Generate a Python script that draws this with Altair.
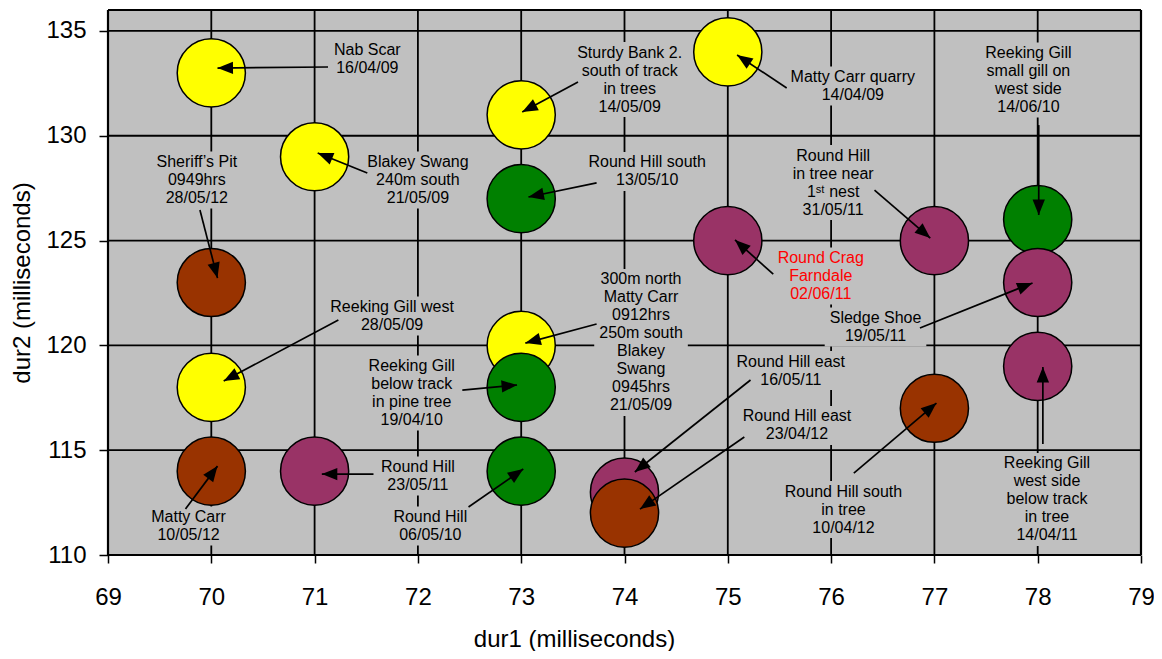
import math
import altair as alt
import pandas as pd

# ---------------- data ----------------
pt_group = ["yellow"] * 6 + ["green"] * 4 + ["purple"] * 6 + ["brown"] * 4
pt_dur1 = [70, 71, 73, 75, 73, 70,
           73, 78, 73, 73,
           75, 77, 78, 78, 71, 74,
           70, 70, 77, 74]
pt_dur2 = [133, 129, 131, 134, 120, 118,
           127, 126, 118, 114,
           125, 125, 123, 119, 114, 113,
           123, 114, 117, 112]
group_names = ["yellow", "green", "purple", "brown"]
group_colors = ["#FFFF00", "#008000", "#993366", "#993300"]

lbl_text = [
    "Nab Scar\n16/04/09",
    "Sheriff\u2019s Pit\n0949hrs\n28/05/12",
    "Blakey Swang\n240m south\n21/05/09",
    "Sturdy Bank 2.\nsouth of track\nin trees\n14/05/09",
    "Matty Carr quarry\n14/04/09",
    "Round Hill south\n13/05/10",
    "Reeking Gill\nsmall gill on\nwest side\n14/06/10",
    "Round Hill\nin tree near\n1\u02e2\u1d57 nest\n31/05/11",
    "Round Crag\nFarndale\n02/06/11",
    "300m north\nMatty Carr\n0912hrs\n250m south\nBlakey\nSwang\n0945hrs\n21/05/09",
    "Reeking Gill west\n28/05/09",
    "Reeking Gill\nbelow track\nin pine tree\n19/04/10",
    "Round Hill\n23/05/11",
    "Round Hill\n06/05/10",
    "Matty Carr\n10/05/12",
    "Round Hill east\n16/05/11",
    "Round Hill east\n23/04/12",
    "Round Hill south\nin tree\n10/04/12",
    "Sledge Shoe\n19/05/11",
    "Reeking Gill\nwest side\nbelow track\nin tree\n14/04/11",
]
# centre of each label block (data units)
lbl_x = [71.51, 69.86, 72.00, 74.05, 76.21, 74.22, 77.91, 76.02, 75.90, 74.16,
         71.75, 71.94, 72.00, 72.12, 69.78, 75.61, 75.67, 76.12, 76.43, 78.09]
lbl_y = [133.66, 127.89, 127.89, 132.68, 132.37, 128.30, 132.66, 127.77, 123.31, 120.14,
         121.40, 117.73, 113.77, 111.38, 111.38, 118.80, 116.18, 112.17, 120.88, 112.65]
lbl_color = ["black"] * 8 + ["#FF0000"] + ["black"] * 11

arr_x1 = [71.13, 69.89, 71.51, 73.55, 75.57, 73.73, 78.01, 76.42, 75.44, 73.73,
          71.23, 72.43, 71.57, 72.49, 69.75, 75.22, 75.16, 76.22, 76.86, 78.05]
arr_y1 = [133.28, 126.46, 128.22, 132.56, 132.28, 127.75, 130.51, 127.41, 123.40, 121.02,
          121.21, 117.87, 113.86, 112.29, 112.19, 118.35, 115.63, 113.91, 120.83, 115.29]
arr_x2 = [70.06, 70.06, 71.03, 73.01, 75.09, 73.07, 78.01, 76.96, 75.07, 73.04,
          70.12, 72.96, 71.07, 73.02, 70.06, 74.10, 74.15, 77.02, 77.95, 78.05]
arr_y2 = [133.23, 123.21, 129.18, 131.13, 133.85, 127.08, 126.22, 125.12, 125.03, 120.11,
          118.30, 118.11, 113.86, 114.10, 114.24, 113.96, 112.19, 117.25, 122.98, 118.97]

x_ticks = list(range(69, 80))
y_ticks = [110, 115, 120, 125, 130, 135]

# ---------------- layout ----------------
W, H = 1033, 545
XDOM, YDOM = [69, 79], [110, 136]
FONT = "Liberation Sans"
FS, LH = 16, 18
BG = "#C0C0C0"

px_x = W / (XDOM[1] - XDOM[0])
px_y = H / (YDOM[1] - YDOM[0])

angles = []
for a, b, c, d in zip(arr_x1, arr_y1, arr_x2, arr_y2):
    dx = (c - a) * px_x
    dy = -(d - b) * px_y
    angles.append(math.degrees(math.atan2(dx, -dy)) % 360)

# approximate Arial advance widths (em) to size the label background boxes
_w = {"i": .222, "l": .222, "j": .222, "\u2019": .222, " ": .278, "t": .278, "f": .278,
      "/": .278, ".": .278, ",": .278, "r": .333, "(": .333, ")": .333, "s": .5,
      "c": .5, "k": .5, "y": .5, "v": .5, "x": .5, "z": .5, "m": .833, "w": .722,
      "M": .833, "R": .722, "H": .722, "C": .722, "G": .778, "B": .667, "S": .667,
      "N": .722, "F": .611, "P": .667, "W": .944, "\u02e2": .35, "\u1d57": .3}


def text_w(s):
    return sum(_w.get(ch, .556) for ch in s) * FS


first_y, bx1, bx2, by1, by2 = [], [], [], [], []
for t, x, y in zip(lbl_text, lbl_x, lbl_y):
    lines = t.split("\n")
    n = len(lines)
    first_y.append(y + (n - 1) / 2 * LH / px_y)
    bw = max(text_w(s) for s in lines) + 10
    bh = n * LH + 3
    bx1.append(x - bw / 2 / px_x)
    bx2.append(x + bw / 2 / px_x)
    by1.append(y - bh / 2 / px_y)
    by2.append(y + bh / 2 / px_y)

pts = pd.DataFrame({"dur1": pt_dur1, "dur2": pt_dur2, "g": pt_group})
lbls = pd.DataFrame({"dur1": lbl_x, "dur2": first_y, "t": lbl_text, "c": lbl_color})
boxes = pd.DataFrame({"dur1": bx1, "x2": bx2, "dur2": by1, "y2": by2})
arrs = pd.DataFrame({"dur1": arr_x1, "dur2": arr_y1, "x2": arr_x2, "y2": arr_y2})
heads = pd.DataFrame({"dur1": arr_x2, "dur2": arr_y2, "ang": angles})
plot_bg = pd.DataFrame({"dur1": [XDOM[0]], "x2": [XDOM[1]], "dur2": [YDOM[0]], "y2": [YDOM[1]]})
vgrid = pd.DataFrame({"dur1": x_ticks})
hgrid = pd.DataFrame({"dur2": y_ticks})
vframe = pd.DataFrame({"dur1": XDOM})
hframe = pd.DataFrame({"dur2": YDOM})

xs = alt.Scale(domain=XDOM, nice=False, zero=False)
ys = alt.Scale(domain=YDOM, nice=False, zero=False)

xaxis = alt.Axis(
    values=x_ticks, title="dur1 (milliseconds)", grid=False, domain=False,
    tickColor="black", tickSize=8, tickWidth=1.5,
    labelFont=FONT, labelFontSize=24,
    labelColor="black", labelPadding=22, labelFlush=False, labelOverlap=False,
    titleFont=FONT, titleFontSize=24, titleFontWeight="normal", titleColor="black",
    titleX=466, titleY=72, titleBaseline="top", titleAlign="center",
)
yaxis = alt.Axis(
    values=y_ticks, title="dur2 (milliseconds)", grid=False, domain=False,
    tickColor="black", tickSize=9, tickWidth=1.5,
    labelFont=FONT, labelFontSize=24,
    labelColor="black", labelPadding=13, labelFlush=False, labelOverlap=False,
    titleFont=FONT, titleFontSize=24, titleFontWeight="normal", titleColor="black",
    titleX=-74, titleY=H / 2,
)


def X(f="dur1"):
    return alt.X(f, type="quantitative", scale=xs, axis=xaxis)


def Y(f="dur2"):
    return alt.Y(f, type="quantitative", scale=ys, axis=yaxis)


def gray_rect(df):
    return alt.Chart(df).mark_rect(
        fill=BG, fillOpacity=1, opacity=1, strokeWidth=0
    ).encode(x=X(), y=Y(), x2="x2:Q", y2="y2:Q")


background = gray_rect(plot_bg)
vlines = alt.Chart(vgrid).mark_rule(color="black", strokeWidth=1.8).encode(x=X())
hlines = alt.Chart(hgrid).mark_rule(color="black", strokeWidth=1.8).encode(y=Y())
bgboxes = gray_rect(boxes)

circles = alt.Chart(pts).mark_circle(
    size=4650, opacity=1, stroke="black", strokeWidth=1.5
).encode(
    x=X(), y=Y(),
    color=alt.Color("g:N", scale=alt.Scale(domain=group_names, range=group_colors), legend=None),
)

shafts = alt.Chart(arrs).mark_rule(color="black", strokeWidth=1.7).encode(
    x=X(), y=Y(), x2="x2:Q", y2="y2:Q"
)

arrowheads = alt.Chart(heads).mark_point(
    shape="M0,0L-0.62,1.55L0.62,1.55Z", filled=True, size=400, opacity=1,
    color="black", strokeWidth=0,
).encode(x=X(), y=Y(), angle=alt.Angle("ang:Q", scale=None))

texts = alt.Chart(lbls).mark_text(
    font=FONT, fontSize=FS, lineHeight=LH, lineBreak="\n", align="center",
    baseline="middle",
).encode(x=X(), y=Y(), text="t:N", color=alt.Color("c:N", scale=None))

vborder = alt.Chart(vframe).mark_rule(color="black", strokeWidth=2.2).encode(x=X())
hborder = alt.Chart(hframe).mark_rule(color="black", strokeWidth=2.2).encode(y=Y())

chart = alt.layer(
    background, vlines, hlines, bgboxes, circles, shafts, arrowheads, texts,
    vborder, hborder,
).properties(
    width=W, height=H,
    padding={"left": 100, "top": 2, "right": 13, "bottom": 96},
    autosize=alt.AutoSizeParams(type="none"),
).configure_view(
    fill=BG, stroke=None if False else "transparent", strokeWidth=0
).configure(background="white")

chart.save("out.html", embed_options={"renderer": "svg", "actions": False})
